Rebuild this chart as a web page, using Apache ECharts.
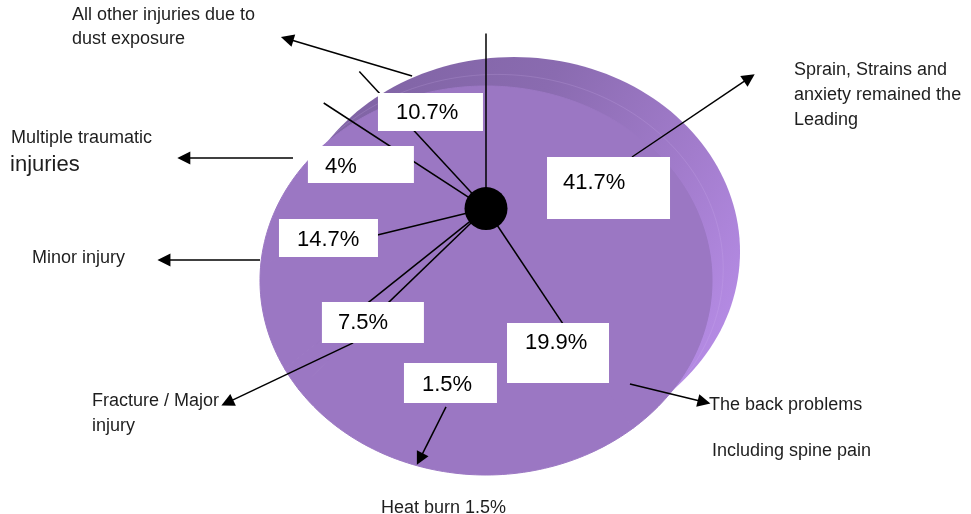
<!DOCTYPE html>
<html>
<head>
<meta charset="utf-8">
<script src="https://cdn.jsdelivr.net/npm/echarts@6/dist/echarts.min.js"></script>
<style>
html,body{margin:0;padding:0;background:#ffffff;}
#chart{width:971px;height:514px;}
</style>
</head>
<body>
<div id="chart"></div>
<script>
// ---------------- data ----------------
const categories = [
  'Sprain, Strains and anxiety remained the Leading',
  'The back problems Including spine pain',
  'Heat burn',
  'Fracture / Major injury',
  'Minor injury',
  'Multiple traumatic injuries',
  'All other injuries due to dust exposure'
];
const shares = [41.7, 19.9, 1.5, 7.5, 14.7, 4, 10.7];
const calloutText = [
  ['Sprain, Strains and', 'anxiety remained the', 'Leading'],
  ['The back problems', 'Including spine pain'],
  ['Heat burn 1.5%'],
  ['Fracture / Major', 'injury'],
  ['Minor injury'],
  ['Multiple traumatic', 'injuries'],
  ['All other injuries due to', 'dust exposure']
];

// ---------------- layout (pie space: face ellipse = unit circle) ----------------
const FONT = "'Liberation Sans', Arial, sans-serif";
const X_RANGE = [-2.1504, 2.1460];
const Y_RANGE = [-1.2005, 1.4422];
const HUB = [0, 0.37];
const RIM_SHIFT = [0.124, 0.149];
const SPOKE_LEN = 0.9;
const FACE = '#9b77c3';
// value boxes: top-left anchor, box size and text inset in px
const boxLayout = [
  {at: [0.270, 0.635],  w: 123, h: 62, pl: 16, pt: 15},
  {at: [0.093, -0.2185], w: 102, h: 60, pl: 18, pt: 9},
  {at: [-0.363, -0.424], w: 93,  h: 40, pl: 18, pt: 11},
  {at: [-0.726, -0.1105], w: 102, h: 41, pl: 16, pt: 10},
  {at: [-0.916, 0.316],  w: 99,  h: 38, pl: 18, pt: 10},
  {at: [-0.788, 0.6915], w: 106, h: 37, pl: 17, pt: 10},
  {at: [-0.478, 0.964],  w: 105, h: 38, pl: 18, pt: 9}
];
// callout text lines: [x, y(middle), font size]
const calloutLayout = [
  [[1.363, 1.0823, 18], [1.363, 0.9537, 18], [1.363, 0.8252, 18]],
  [[0.987, -0.640, 18], [1.000, -0.8766, 18]],
  [[-0.4646, -1.1697, 18]],
  [[-1.743, -0.6195, 18], [-1.743, -0.748, 18]],
  [[-2.009, 0.1157, 18]],
  [[-2.102, 0.7326, 18], [-2.106, 0.5964, 22]],
  [[-1.832, 1.365, 18], [-1.832, 1.2416, 18]]
];
// arrows from value boxes to callouts: [from, to]
const arrowLayout = [
  [[0.646, 0.635], [1.165, 1.042]],
  [[0.637, -0.532], [0.965, -0.625]],
  [[-0.177, -0.650], [-0.293, -0.918]],
  [[-0.588, -0.321], [-1.145, -0.628]],
  [[-1.0, 0.105], [-1.425, 0.105]],
  [[-0.854, 0.630], [-1.337, 0.630]],
  [[-0.327, 1.051], [-0.880, 1.243]]
];

// ---------------- geometry helpers ----------------
const total = shares.reduce((a, b) => a + b, 0);
let acc = 0;
const starts = shares.map(v => { const s = acc; acc += v; return s; });
const angleOf = p => (90 - p / total * 360) * Math.PI / 180;
function edgePoint(theta) {
  const d = [Math.cos(theta), Math.sin(theta)];
  const b = HUB[0] * d[0] + HUB[1] * d[1];
  const c = HUB[0] * HUB[0] + HUB[1] * HUB[1] - 1;
  const t = -b + Math.sqrt(b * b - c);
  return [HUB[0] + t * d[0], HUB[1] + t * d[1]];
}
function ellipsePoints(api, shift) {
  const pts = [];
  for (let k = 0; k < 180; k++) {
    const a = k / 180 * Math.PI * 2;
    pts.push(api.coord([Math.cos(a) + shift[0], Math.sin(a) + shift[1]]));
  }
  return pts;
}

const chart = echarts.init(document.getElementById('chart'), null, {renderer: 'canvas'});

const option = {
  animation: false,
  backgroundColor: '#ffffff',
  grid: {left: 0, right: 0, top: 0, bottom: 0},
  xAxis: {type: 'value', min: X_RANGE[0], max: X_RANGE[1], show: false},
  yAxis: {type: 'value', min: Y_RANGE[0], max: Y_RANGE[1], show: false},
  series: [
    {
      name: 'rim', type: 'custom', z: 1, silent: true,
      data: [[0, 0]],
      renderItem: (params, api) => ({
        type: 'group',
        children: [
          {
            type: 'polygon',
            shape: {points: ellipsePoints(api, RIM_SHIFT)},
            style: {
              fill: new echarts.graphic.LinearGradient(0, 0, 1, 0.7, [
                {offset: 0, color: '#7c61a0'},
                {offset: 0.45, color: '#8a6bb0'},
                {offset: 0.75, color: '#a27ccc'},
                {offset: 1, color: '#b68ce6'}
              ])
            }
          },
          {
            type: 'polygon',
            shape: {points: ellipsePoints(api, [RIM_SHIFT[0] * 0.4, RIM_SHIFT[1] * 0.4])},
            style: {fill: 'none', stroke: 'rgba(215,190,245,0.18)', lineWidth: 1}
          }
        ]
      })
    },
    {
      name: 'slices', type: 'custom', z: 2, silent: true,
      data: shares.map((v, i) => [starts[i], v]),
      renderItem: (params, api) => {
        const s = api.value(0), v = api.value(1);
        const a0 = angleOf(s), a1 = angleOf(s + v);
        const n = Math.max(2, Math.ceil(Math.abs(a1 - a0) / (Math.PI / 180)));
        const pts = [api.coord(HUB)];
        for (let k = 0; k <= n; k++) {
          pts.push(api.coord(edgePoint(a0 + (a1 - a0) * k / n)));
        }
        return {type: 'polygon', shape: {points: pts}, style: {fill: FACE, stroke: FACE, lineWidth: 1}};
      }
    },
    {
      name: 'spokes', type: 'custom', z: 3, silent: true,
      data: shares.map((v, i) => [starts[i], v]),
      renderItem: (params, api) => {
        const a = angleOf(api.value(0));
        const p0 = api.coord(HUB);
        const p1 = api.coord([HUB[0] + SPOKE_LEN * Math.cos(a), HUB[1] + SPOKE_LEN * Math.sin(a)]);
        return {type: 'line', shape: {x1: p0[0], y1: p0[1], x2: p1[0], y2: p1[1]},
                style: {stroke: '#000000', lineWidth: 1.5}};
      }
    },
    {
      name: 'hub', type: 'scatter', z: 4, silent: true,
      data: [HUB], symbol: 'circle', symbolSize: 43,
      itemStyle: {color: '#000000', opacity: 1}
    },
    {
      name: 'arrows', type: 'scatter', z: 4, silent: true,
      data: [], symbolSize: 0,
      markLine: {
        silent: true, animation: false,
        symbol: ['none', 'triangle'], symbolSize: 13,
        label: {show: false},
        lineStyle: {color: '#000000', width: 1.5, type: 'solid', opacity: 1},
        emphasis: {disabled: true},
        data: arrowLayout.map(a => [{coord: a[0]}, {coord: a[1]}])
      }
    },
    {
      name: 'values', type: 'scatter', z: 5, silent: true,
      symbolSize: 1, itemStyle: {color: 'rgba(0,0,0,0)', opacity: 1},
      data: boxLayout.map((b, i) => ({
        value: b.at,
        name: categories[i],
        label: {padding: [b.pt, 0, 0, b.pl], width: b.w - b.pl, height: b.h - b.pt}
      })),
      label: {
        show: true, position: 'inside', align: 'left', verticalAlign: 'top',
        formatter: p => shares[p.dataIndex] + '%',
        backgroundColor: '#ffffff', color: '#000000', opacity: 1,
        fontFamily: FONT, fontSize: 22, lineHeight: 22,
        textBorderWidth: 0
      }
    },
    {
      name: 'callouts', type: 'scatter', z: 5, silent: true,
      symbolSize: 1, itemStyle: {color: 'rgba(0,0,0,0)', opacity: 1},
      data: calloutText.flatMap((lines, i) => lines.map((t, j) => ({
        value: [calloutLayout[i][j][0], calloutLayout[i][j][1]],
        name: t,
        label: {fontSize: calloutLayout[i][j][2]}
      }))),
      label: {
        show: true, position: 'inside', align: 'left', verticalAlign: 'middle',
        formatter: '{b}', color: '#1e1e1e', opacity: 1, fontFamily: FONT, fontSize: 18,
        textBorderWidth: 0
      }
    }
  ]
};
chart.setOption(option);
</script>
</body>
</html>
